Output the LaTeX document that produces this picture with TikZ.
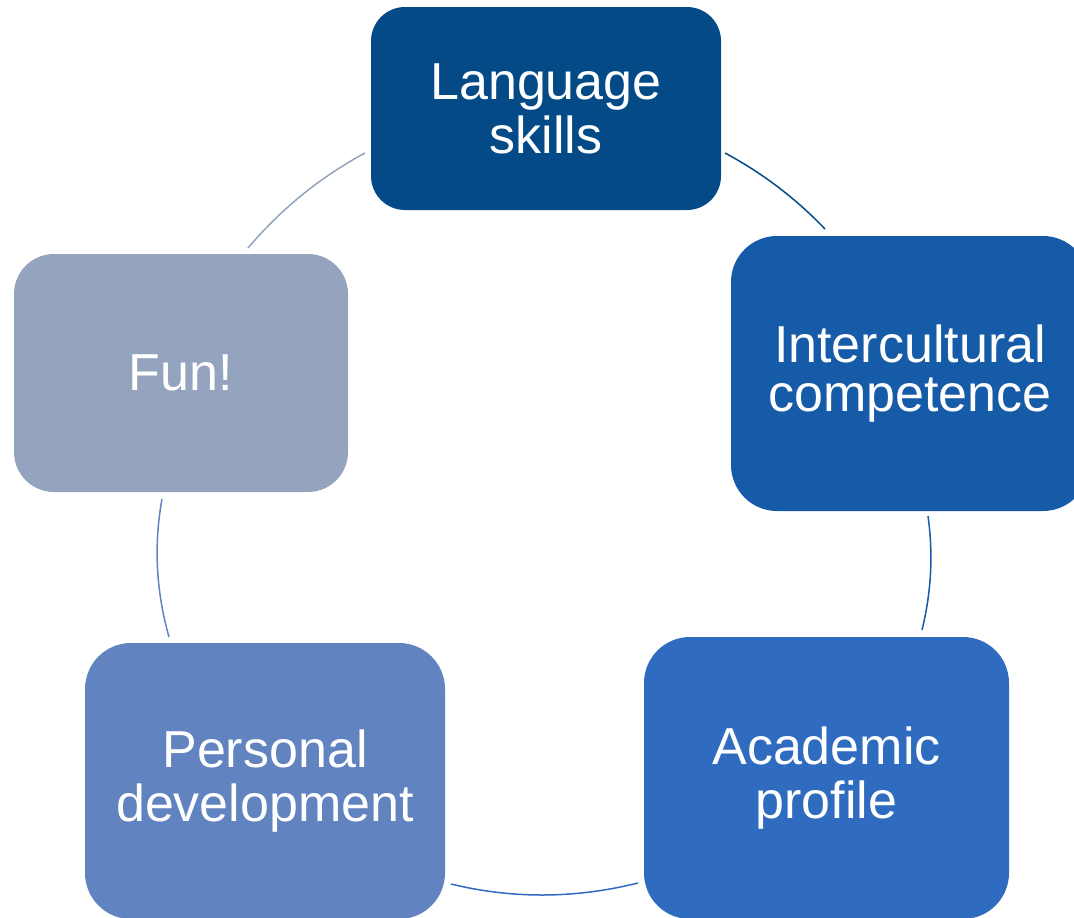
\documentclass[tikz,border=0pt]{standalone}
\usepackage{fontspec}
\setmainfont{Liberation Sans}
\usetikzlibrary{calc}
\definecolor{cLang}{HTML}{034A87}
\definecolor{cInter}{HTML}{155BA8}
\definecolor{cAcad}{HTML}{2F6CBF}
\definecolor{cPers}{HTML}{6183BF}
\definecolor{cFun}{HTML}{95A4BE}
\begin{document}
\begin{tikzpicture}[x=1pt,y=-1pt,
  box/.style={draw=none, text=white, align=center, inner sep=0pt,
    font=\fontsize{52}{54}\selectfont},
  arc/.style={line width=1.5pt}]
\useasboundingbox (0,0) rectangle (1074,918);
\clip (0,0) rectangle (1074,918);
% boxes
\node[box, fill=cLang, minimum width=350pt, minimum height=203pt, rounded corners=34pt] (lang) at (546,108.5) {Language\\skills};
\node[box, fill=cInter, minimum width=358pt, minimum height=275pt, rounded corners=46pt,
  font=\fontsize{52}{49}\selectfont] (inter) at (910,373.5) {Intercultural\\competence};
\node[box, fill=cAcad, minimum width=365pt, minimum height=282pt, rounded corners=46pt] (acad) at (826.5,778) {Academic\\profile};
\node[box, fill=cPers, minimum width=360pt, minimum height=276pt, rounded corners=46pt] (pers) at (265,781) {Personal\\development};
\node[box, fill=cFun, minimum width=334pt, minimum height=238pt, rounded corners=40pt] (fun) at (181,373) {Fun!};
% arc end points
\coordinate (lang-out) at (725,153);
\coordinate (inter-in) at (825,229);
\coordinate (inter-out) at (928,516);
\coordinate (acad-in) at (922,630);
\coordinate (acad-out) at (638,883);
\coordinate (pers-in) at (451,884);
\coordinate (pers-out) at (169,637);
\coordinate (fun-in) at (162,499);
\coordinate (fun-out) at (248,248);
\coordinate (lang-in) at (365,153);
% quadratic control points
\coordinate (q1) at (781,183);
\coordinate (q2) at (936,573);
\coordinate (q3) at (543.5,906.5);
\coordinate (q4) at (149.5,568);
\coordinate (q5) at (297.5,189.5);
% arcs (quadratic curves as cubic)
\draw[arc, cLang] (lang-out) .. controls ($(lang-out)!2/3!(q1)$) and ($(inter-in)!2/3!(q1)$) .. (inter-in);
\draw[arc, cInter] (inter-out) .. controls ($(inter-out)!2/3!(q2)$) and ($(acad-in)!2/3!(q2)$) .. (acad-in);
\draw[arc, cAcad] (acad-out) .. controls ($(acad-out)!2/3!(q3)$) and ($(pers-in)!2/3!(q3)$) .. (pers-in);
\draw[arc, cPers] (pers-out) .. controls ($(pers-out)!2/3!(q4)$) and ($(fun-in)!2/3!(q4)$) .. (fun-in);
\draw[arc, cFun] (fun-out) .. controls ($(fun-out)!2/3!(q5)$) and ($(lang-in)!2/3!(q5)$) .. (lang-in);
\end{tikzpicture}
\end{document}
